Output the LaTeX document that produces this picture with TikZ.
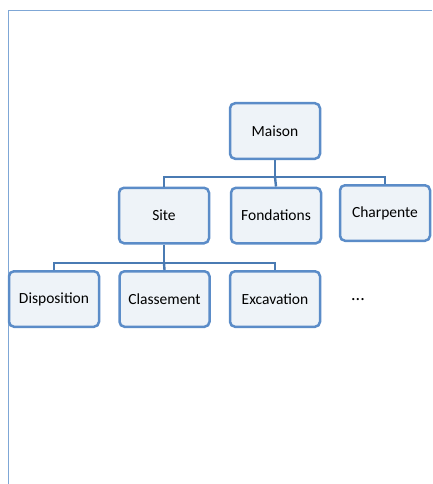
\documentclass[tikz,border=0pt]{standalone}
\usepackage{fontspec}
\setmainfont{Carlito}
\definecolor{boxfill}{HTML}{EEF3F8}
\definecolor{boxline}{HTML}{5B8CC8}
\definecolor{conn}{HTML}{4A7BB3}
\definecolor{frame}{HTML}{7FA7D6}
\begin{document}
\begin{tikzpicture}[x=1pt,y=-1pt,
  block/.style={draw=boxline, fill=boxfill, line width=2.5pt, rounded corners=5pt,
    minimum width=90pt, minimum height=55.5pt, inner sep=0pt,
    font=\fontsize{15.5}{17}\selectfont, text=black},
  link/.style={draw=conn, line width=2.4pt}]
\useasboundingbox (0,0) rectangle (432,484);
\draw[frame, line width=1.4pt] (8.5,484) -- (8.5,10.5) -- (432,10.5);
\node[block] (maison) at (275,131) {Maison};
\node[block] (site) at (164,215.5) {Site};
\node[block] (fond) at (276,215.5) {Fondations};
\node[block] (charp) at (385,213) {Charpente};
\node[block] (disp) at (54,299) {Disposition};
\node[block] (class) at (164.5,299) {Classement};
\node[block] (exc) at (275,299) {Excavation};
\node[font=\fontsize{18}{19}\selectfont] (dots) at (358,300) {...};
\coordinate (h1) at (275,177);
\coordinate (h2) at (164,263);
\draw[link] (maison.south) -- (h1);
\draw[link] (site.north) |- (h1) -| (charp.north);
\draw[link] (h1) -- (fond.north);
\draw[link] (site.south) -- (h2);
\draw[link] (disp.north) |- (h2) -| (exc.north);
\draw[link] (h2) -- (class.north);
\end{tikzpicture}
\end{document}
